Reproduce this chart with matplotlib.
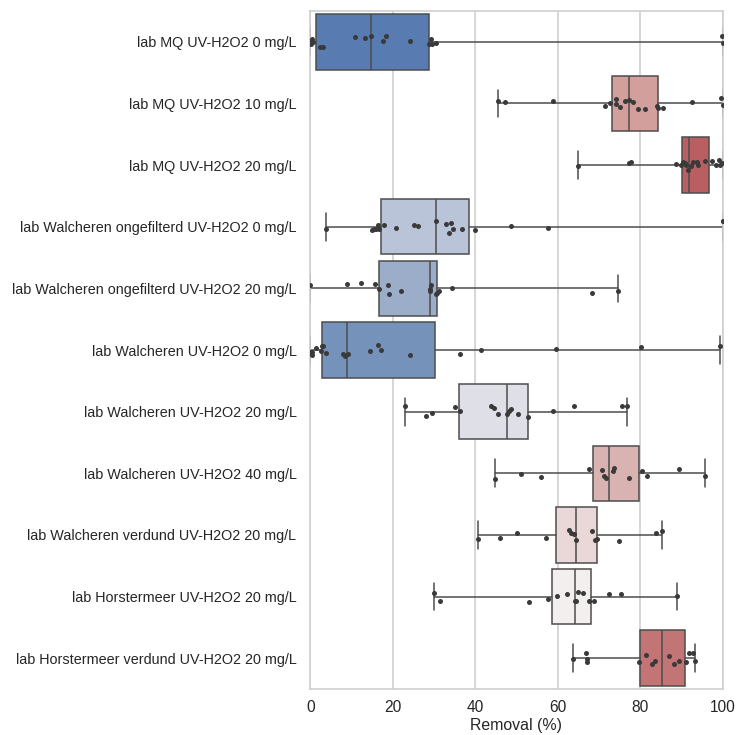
import numpy as np
import pandas as pd
import matplotlib
matplotlib.use('Agg')
import matplotlib.pyplot as plt
import seaborn as sns

labels = ['lab MQ UV-H2O2 0 mg/L',
          'lab MQ UV-H2O2 10 mg/L',
          'lab MQ UV-H2O2 20 mg/L',
          'lab Walcheren ongefilterd UV-H2O2 0 mg/L',
          'lab Walcheren ongefilterd UV-H2O2 20 mg/L',
          'lab Walcheren UV-H2O2 0 mg/L',
          'lab Walcheren UV-H2O2 20 mg/L',
          'lab Walcheren UV-H2O2 40 mg/L',
          'lab Walcheren verdund UV-H2O2 20 mg/L',
          'lab Horstermeer UV-H2O2 20 mg/L',
          'lab Horstermeer verdund UV-H2O2 20 mg/L']

# box statistics (removal in %)
whis_lo = [0.0, 45.4, 64.8, 3.8, 0.0, 0.0, 23.0, 44.7, 40.7, 29.9, 63.8]
q1 = [1.5, 73.2, 90.2, 17.2, 16.7, 2.9, 36.1, 68.5, 59.7, 58.7, 80.0]
mediaan = [14.8, 77.3, 91.8, 30.6, 29.0, 9.0, 47.6, 72.5, 64.4, 64.1, 85.2]
q3 = [28.9, 84.2, 96.6, 38.4, 30.8, 30.2, 52.7, 79.6, 69.4, 68.0, 90.9]
whis_hi = [100.0, 100.0, 100.0, 100.0, 74.6, 99.4, 76.9, 95.6, 85.4, 88.8, 93.3]

# individuele metingen per stof
metingen = [
    [0.0, 0.2, 0.4, 0.7, 2.4, 3.0, 10.9, 13.3, 14.8, 17.6, 18.4, 24.2,
     28.9, 29.2, 29.5, 30.6, 99.8, 100.0],
    [45.4, 47.3, 58.8, 71.4, 72.6, 74.1, 74.1, 75.2, 76.2, 77.3, 78.2,
     79.5, 81.1, 84.0, 84.4, 85.6, 92.5, 99.6, 100.0],
    [64.8, 77.4, 77.8, 88.7, 89.8, 90.3, 90.8, 91.2, 91.6, 92.2, 92.7,
     93.7, 94.0, 95.8, 97.3, 98.4, 99.0, 99.4, 99.8],
    [3.8, 15.0, 15.5, 16.0, 16.3, 16.6, 17.9, 20.9, 25.2, 26.1, 30.6,
     32.9, 33.6, 34.0, 34.5, 36.9, 39.9, 48.7, 57.7, 100.0, 100.0],
    [0.0, 9.0, 12.4, 15.7, 16.7, 18.9, 19.2, 22.1, 29.0, 29.1, 29.2,
     30.6, 30.8, 31.3, 34.4, 68.3, 74.6],
    [0.0, 0.3, 0.5, 1.4, 2.5, 2.8, 3.2, 3.8, 8.0, 8.4, 9.2, 14.4, 16.3,
     17.1, 24.3, 36.2, 41.4, 59.6, 80.2, 99.4],
    [23.0, 28.0, 29.5, 35.2, 36.3, 43.7, 44.5, 45.6, 47.6, 48.3, 48.6,
     50.4, 52.7, 58.9, 63.9, 75.5, 76.9],
    [44.7, 51.2, 55.9, 67.7, 70.7, 71.1, 71.6, 73.3, 73.6, 77.4, 80.4,
     81.7, 89.5, 95.6],
    [40.7, 46.1, 50.1, 57.2, 62.7, 63.1, 64.0, 64.5, 68.3, 69.0, 69.6,
     74.9, 83.8, 85.4],
    [29.9, 31.4, 53.1, 57.6, 59.9, 62.2, 64.1, 64.4, 64.8, 66.2, 67.5,
     68.7, 72.5, 75.3, 88.8],
    [63.8, 66.8, 67.0, 67.2, 79.8, 81.3, 82.9, 83.5, 86.9, 88.1, 89.5,
     91.1, 91.8, 92.9, 93.3],
]

box_kleuren = ['#587bb1', '#d39f9d', '#b95f62', '#bac4d8', '#9cadc9',
               '#7592bb', '#dfe0e7', '#d9b3b1', '#ead7d7', '#f4efef',
               '#c37474']

sns.set_theme(style='whitegrid')
plt.rcParams['font.family'] = ['Liberation Sans', 'DejaVu Sans']

df = pd.DataFrame({'stof': [lab for lab, m in zip(labels, metingen) for _ in m],
                   'removal': [v for m in metingen for v in m]})

fig, ax = plt.subplots(figsize=(7.37, 7.35), dpi=100)
fig.subplots_adjust(left=0.421, right=0.9806, top=0.985, bottom=0.0626)

stats = [dict(whislo=a, q1=b, med=c, q3=d, whishi=e, fliers=[])
         for a, b, c, d, e in zip(whis_lo, q1, mediaan, q3, whis_hi)]
lijn = '#4d4d4d'
bp = ax.bxp(stats, positions=range(len(labels)), widths=0.9, vert=False,
            patch_artist=True, showfliers=False,
            boxprops=dict(edgecolor=lijn, linewidth=1.1),
            whiskerprops=dict(color=lijn, linewidth=1.1),
            capprops=dict(color=lijn, linewidth=1.1),
            medianprops=dict(color=lijn, linewidth=1.1))
for patch, kleur in zip(bp['boxes'], box_kleuren):
    patch.set_facecolor(kleur)

np.random.seed(3)
sns.stripplot(data=df, x='removal', y='stof', order=labels, ax=ax,
              color='#3a3a3a', size=3.6, jitter=0.1, zorder=5)

ax.set_xlim(0, 100)
ax.set_ylim(len(labels) - 0.5, -0.5)
ax.set_yticks(range(len(labels)))
ax.set_yticklabels(labels)
ax.set_xticks([0, 20, 40, 60, 80, 100])
ax.set_xlabel('Removal (%)', fontsize=11.4, color='#262626', labelpad=2)
ax.set_ylabel('')
ax.tick_params(axis='y', length=0, pad=10, labelsize=10.35, labelcolor='#262626')
ax.tick_params(axis='x', length=0, pad=8, labelsize=11.2, labelcolor='#262626')
ax.grid(axis='y', visible=False)
ax.grid(axis='x', color='#d0d0d0', linewidth=1.2)
for sp in ax.spines.values():
    sp.set_color('#cfcfcf')
    sp.set_linewidth(1.2)

plt.savefig('out.png', dpi=100)
